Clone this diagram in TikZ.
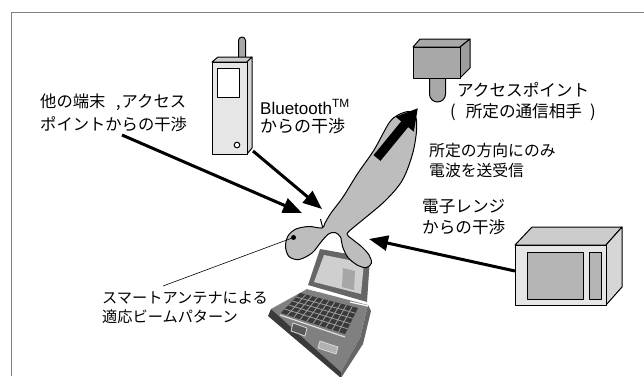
\documentclass[tikz,border=0pt]{standalone}
\usepackage{fontspec}
\setmainfont{Liberation Sans}
\newfontfamily\jpfont{Noto Sans CJK JP}
\usetikzlibrary{arrows.meta,calc}

\definecolor{framegray}{HTML}{808080}
\definecolor{devlight}{HTML}{E6E6E6}
\definecolor{devside}{HTML}{D6D6D6}
\definecolor{devtop}{HTML}{CCCCCC}
\definecolor{apgray}{HTML}{A8A8A8}
\definecolor{apside}{HTML}{9C9C9C}
\definecolor{wingray}{HTML}{B4B4B4}
\definecolor{lobegray}{HTML}{BDBDBD}
\definecolor{lapdark}{HTML}{3A3A3A}
\definecolor{lapmid}{HTML}{808080}
\definecolor{lapframe}{HTML}{666666}
\definecolor{lapscreen}{HTML}{CFCFCF}

\begin{document}
\begin{tikzpicture}[x=1pt,y=-1pt,
  outline/.style={draw=black,line width=1pt,line join=round},
  interf/.style={line width=3pt,-{Triangle[length=19pt,width=15pt]}},
  jptext/.style={font=\jpfont,align=left,inner sep=0pt,anchor=west},
  pointer/.style={draw=black,line width=0.6pt}
]
\useasboundingbox (0,0) rectangle (644,376);

% frame
\draw[framegray,line width=1pt] (11,376) -- (11,12) -- (644,12);

% ---------------- handset ----------------
\draw[outline,fill=apgray] (238.5,60) -- (238.5,40.5)
  arc[start angle=180,end angle=360,radius=3.5] -- (245.5,60) -- cycle;
\draw[outline,fill=devtop] (212,62) -- (218,57) -- (252,57) -- (247,62) -- cycle;
\draw[outline,fill=devside] (247,62) -- (252,57) -- (252,148) -- (247,154) -- cycle;
\draw[outline,fill=devlight] (212,62) rectangle (247,154);
\draw[outline,fill=white] (217,68) rectangle (239,97);
\draw[outline,fill=white] (237,145) circle (2.8);
\coordinate (phone-foot) at (253,151);

% ---------------- access point ----------------
\draw[outline,fill=apgray] (429.5,76) -- (429.5,94)
  arc[start angle=180,end angle=0,radius=8] -- (445.5,76) -- cycle;
\draw[outline,fill=apgray] (413,47) -- (420,39) -- (470,39) -- (460,47) -- cycle;
\draw[outline,fill=apside] (460,47) -- (470,39) -- (470,68) -- (460,78) -- cycle;
\draw[outline,fill=apgray] (413,47) rectangle (460,78);

% ---------------- microwave oven ----------------
\draw[outline,fill=devtop] (515,245) -- (532,227) -- (622,227) -- (606,245) -- cycle;
\draw[outline,fill=devside] (606,245) -- (622,227) -- (622,287) -- (606,305) -- cycle;
\draw[outline,fill=devlight] (515,245) rectangle (606,305);
\draw[outline,fill=wingray] (527,252) rectangle (583,299);
\draw[outline,fill=wingray] (589,252) rectangle (601,299);
\coordinate (oven-left) at (515,271);

% ---------------- notebook PC ----------------
% base
\fill[lapmid] (271,309) -- (307,289) -- (368,305) -- (360,338) -- (341,372) -- cycle;
\fill[lapdark] (271,309) -- (341,372) -- (341,378) -- (268,316) -- cycle;
\fill[gray!80!black] (368,305) -- (371,311) -- (363,344) -- (341,378) -- (341,372) -- (360,338) -- cycle;
% keyboard
\coordinate (k1) at (300,293);
\coordinate (k2) at (358,308);
\coordinate (k3) at (345,334);
\coordinate (k4) at (281,313);
\fill[lapdark] (k1) -- (k2) -- (k3) -- (k4) -- cycle;
\foreach \t in {0.2,0.4,0.6,0.8}
  \draw[gray!75,line width=0.8pt] ($(k1)!\t!(k4)$) -- ($(k2)!\t!(k3)$);
\foreach \t in {0.1,0.2,...,0.9}
  \draw[gray!75,line width=0.8pt] ($(k1)!\t!(k2)$) -- ($(k4)!\t!(k3)$);
\draw[gray!25,line width=1.2pt] (280,315) -- (345,337);
% touch pad and buttons
\draw[gray!30,fill=gray!70!black,line width=0.8pt] (293,323) -- (307,328) -- (305,336) -- (291,331) -- cycle;
\draw[gray!30,fill=gray!60,line width=0.8pt] (320,341) -- (338,347) -- (336,354) -- (318,348) -- cycle;
% lid
\fill[lapframe] (320,249) -- (370,258) -- (367,302) -- (308,285) -- cycle;
\fill[lapscreen] (324,255) -- (364,263) -- (361,294) -- (314,282) -- cycle;
\fill[gray!70] (343,268) -- (355,271) -- (354,290) -- (342,287) -- cycle;
\draw[white,line width=1.2pt] (306,288) -- (318,291);
\draw[white,line width=1.2pt] (350,302) -- (368,306);

% ---------------- adaptive beam pattern ----------------
\draw[outline,fill=lobegray] plot[smooth cycle,tension=0.55] coordinates {
  (322,228) (309,226.5) (296,229) (288,236) (285.5,246.5) (289,256.5)
  (299,259.5) (312,253) (321,242) (328.5,234) (335,232.5) (340.5,237)
  (342.5,246.5) (348,257.5) (358,265.5) (366.5,267.5) (371.5,263)
  (369,255) (362,247) (352,239) (347,234) (354,227) (365,218) (386,200)
  (402.5,180) (412.5,154) (416.5,131) (415.5,116) (409,111.5) (398,115)
  (389,123) (374,150) (358,173) (343,197) (331,213) (325,223)};
\draw[line width=1pt] (322.5,227) -- (320.5,219);
\coordinate (beam-tail) at (377,158);
\coordinate (beam-tip) at (418,108);
\draw[line width=9pt,-{Triangle[length=21pt,width=22pt]}] (beam-tail) -- (beam-tip);
\coordinate (beam-dot) at (293.5,237.5);
\fill (beam-dot) circle (2.5);

% ---------------- labels ----------------
\node[jptext,font=\jpfont\fontsize{16.3}{23}\selectfont] (others) at (40,113.3)
  {他の端末\makebox[16.3pt][r]{,\hspace{1pt}}アクセス\\ポイントからの干渉};
\node[jptext,font=\fontsize{17}{18}\selectfont] (bt) at (260,116.5)
  {Bluetooth\textsuperscript{TM}\\{\jpfont からの干渉}};
\node[jptext,font=\jpfont\fontsize{16.6}{20}\selectfont] (ap) at (457,90)
  {アクセスポイント};
\node[jptext,font=\jpfont\fontsize{16.6}{20}\selectfont] (ap-sub) at (450,112)
  {(\hspace{10pt}所定の通信相手\hspace{8pt})};
\node[jptext,font=\jpfont\fontsize{15.8}{20}\selectfont] (dir) at (429,160)
  {所定の方向にのみ\\電波を送受信};
\node[jptext,font=\jpfont\fontsize{16.6}{21.5}\selectfont] (oven) at (422,217.3)
  {電子レンジ\\からの干渉};
\node[jptext,font=\jpfont\fontsize{15.2}{19}\selectfont] (smart) at (102,308)
  {スマートアンテナによる\\適応ビームパターン};

% ---------------- connectors ----------------
\coordinate (others-foot) at (122,135);
\coordinate (others-tip) at (302,213);
\coordinate (phone-tip) at (322,209);
\coordinate (oven-tip) at (369,239);
\coordinate (smart-top) at (163,286);
\draw[interf] (others-foot) -- (others-tip);
\draw[interf] (phone-foot) -- (phone-tip);
\draw[interf] (oven-left) -- (oven-tip);
\draw[pointer] (beam-dot) -- (smart-top);
\end{tikzpicture}
\end{document}
